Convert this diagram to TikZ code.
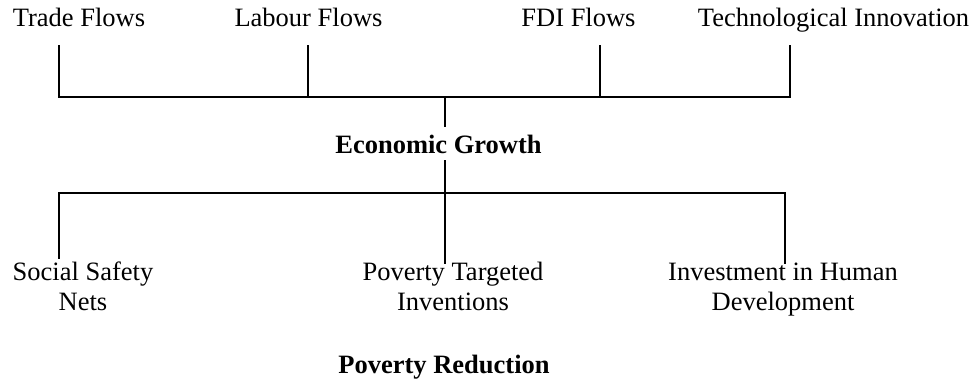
\documentclass[tikz,border=0pt]{standalone}
\usepackage{fontspec}
\setmainfont{Liberation Serif}
\begin{document}
\begin{tikzpicture}[x=1pt,y=-1pt,
  lbl/.style={inner sep=0pt,anchor=base,align=center,font=\fontsize{26.5}{30}\selectfont},
  hd/.style={lbl,font=\fontsize{26.5}{30}\selectfont\bfseries},
  conn/.style={line width=1.8pt,line cap=rect}]
\useasboundingbox (0,0) rectangle (977,381);
% top labels
\node[lbl] (trade) at (79,26) {Trade Flows};
\node[lbl] (labour) at (308.5,26) {Labour Flows};
\node[lbl] (fdi) at (578.5,26) {FDI Flows};
\node[lbl] (tech) at (833.5,26) {Technological Innovation};
\node[hd] (eg) at (438.5,153) {Economic Growth};
\node[lbl] (ssn) at (83,310) {Social Safety\\Nets};
\node[lbl] (pti) at (453,310) {Poverty Targeted\\Inventions};
\node[lbl] (ihd) at (783,310) {Investment in Human\\Development};
\node[hd] (pr) at (444,373) {Poverty Reduction};
% junction coordinates
\coordinate (t1) at (59,46); \coordinate (b1) at (59,97);
\coordinate (t2) at (308,46); \coordinate (b2) at (308,97);
\coordinate (t3) at (600,46); \coordinate (b3) at (600,97);
\coordinate (t4) at (790,46); \coordinate (b4) at (790,97);
\coordinate (bc) at (445,97); \coordinate (egtop) at (445,126);
\coordinate (egbot) at (445,161); \coordinate (mc) at (445,193);
\coordinate (ml) at (59,193); \coordinate (mr) at (785,193);
\coordinate (el) at (59,258); \coordinate (ec) at (445,263); \coordinate (er) at (785,263);
% connectors
\draw[conn] (t1) -- (b1) -- (b4) -- (t4);
\draw[conn] (t2) -- (b2);
\draw[conn] (t3) -- (b3);
\draw[conn] (bc) -- (egtop);
\draw[conn] (egbot) -- (ec);
\draw[conn] (el) -- (ml) -- (mr) -- (er);
\end{tikzpicture}
\end{document}
